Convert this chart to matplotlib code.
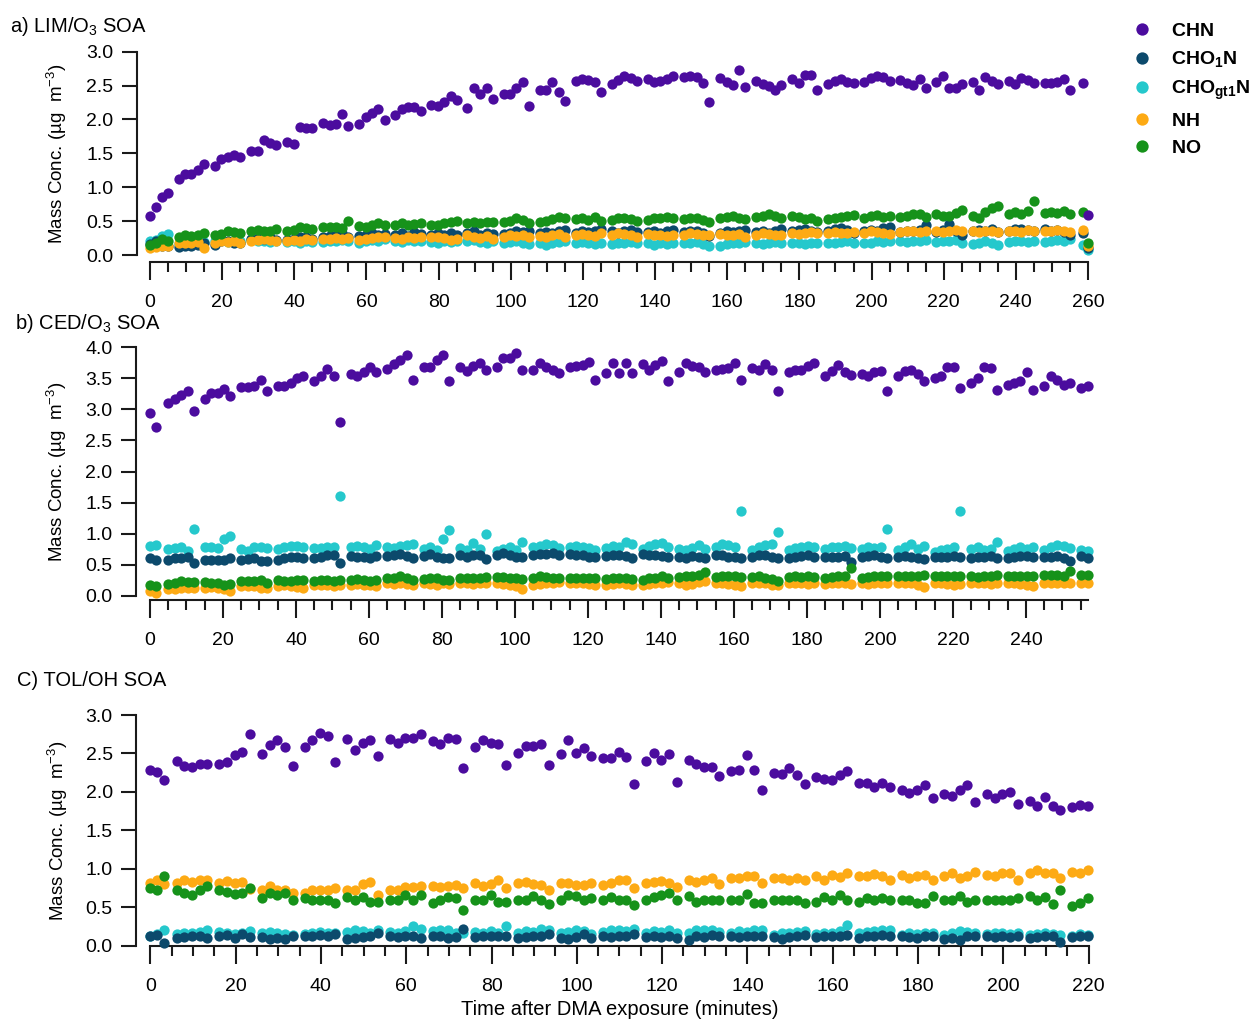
import matplotlib
matplotlib.use("Agg")
import matplotlib.pyplot as plt
import matplotlib.ticker as ticker

plt.rcParams['font.family'] = 'Liberation Sans'
plt.rcParams['mathtext.fontset'] = 'custom'
plt.rcParams['mathtext.rm'] = 'Liberation Sans'
plt.rcParams['mathtext.it'] = 'Liberation Sans:italic'
plt.rcParams['mathtext.bf'] = 'Liberation Sans:bold'

# ---------------- a) LIM/O3 SOA ----------------
time_a = [0, 1.7, 3.4, 5.1,
          8, 9.8, 11.5, 13.3, 15, 18, 19.8, 21.5, 23.3, 25,
          28, 29.8, 31.5, 33.3, 35, 38, 39.8, 41.5, 43.3, 45,
          48, 49.8, 51.5, 53.3, 55, 58, 59.8, 61.5, 63.3, 65,
          68, 69.8, 71.5, 73.3, 75, 78, 79.8, 81.5, 83.3, 85,
          88, 89.8, 91.5, 93.3, 95, 98, 99.8, 101.5, 103.3, 105,
          108, 109.8, 111.5, 113.3, 115, 118, 119.8, 121.5, 123.3, 125,
          128, 129.8, 131.5, 133.3, 135, 138, 139.8, 141.5, 143.3, 145,
          148, 149.8, 151.5, 153.3, 155, 158, 159.8, 161.5, 163.3, 165,
          168, 169.8, 171.5, 173.3, 175, 178, 179.8, 181.5, 183.3, 185,
          188, 189.8, 191.5, 193.3, 195, 198, 199.8, 201.5, 203.3, 205,
          208, 209.8, 211.5, 213.3, 215, 218, 219.8, 221.5, 223.3, 225,
          228, 229.8, 231.5, 233.3, 235, 238, 239.8, 241.5, 243.3, 245,
          248, 249.8, 251.5, 253.3, 255,
          258.5, 260]
chn_a = [0.58, 0.71, 0.85, 0.92,
         1.12, 1.20, 1.20, 1.25, 1.34, 1.31, 1.41, 1.44, 1.48, 1.45,
         1.54, 1.54, 1.70, 1.65, 1.62, 1.67, 1.64, 1.89, 1.87, 1.88,
         1.95, 1.92, 1.94, 2.08, 1.90, 1.93, 2.04, 2.09, 2.15, 1.99,
         2.07, 2.16, 2.19, 2.18, 2.12, 2.21, 2.20, 2.26, 2.34, 2.29,
         2.17, 2.47, 2.38, 2.47, 2.30, 2.38, 2.38, 2.46, 2.56, 2.20,
         2.44, 2.44, 2.56, 2.41, 2.27, 2.57, 2.60, 2.58, 2.56, 2.40,
         2.52, 2.58, 2.64, 2.61, 2.57, 2.60, 2.56, 2.57, 2.60, 2.64,
         2.63, 2.64, 2.63, 2.54, 2.26, 2.61, 2.56, 2.51, 2.73, 2.48,
         2.57, 2.53, 2.49, 2.43, 2.51, 2.59, 2.54, 2.66, 2.66, 2.43,
         2.53, 2.57, 2.59, 2.56, 2.54, 2.56, 2.61, 2.64, 2.62, 2.57,
         2.58, 2.54, 2.51, 2.59, 2.47, 2.56, 2.64, 2.47, 2.46, 2.52,
         2.56, 2.44, 2.63, 2.57, 2.52, 2.57, 2.52, 2.61, 2.58, 2.54,
         2.54, 2.54, 2.56, 2.59, 2.44,
         2.54, 0.59]
cho1n_a = [0.16, 0.20, 0.14, 0.13,
           0.12, 0.14, 0.13, 0.15, 0.17, 0.15, 0.20, 0.21, 0.18, 0.17,
           0.23, 0.25, 0.24, 0.26, 0.22, 0.22, 0.24, 0.27, 0.26, 0.24,
           0.26, 0.28, 0.30, 0.33, 0.27, 0.28, 0.30, 0.32, 0.29, 0.31,
           0.30, 0.33, 0.28, 0.34, 0.31, 0.29, 0.32, 0.30, 0.33, 0.30,
           0.32, 0.35, 0.30, 0.33, 0.31, 0.31, 0.33, 0.35, 0.34, 0.36,
           0.32, 0.34, 0.33, 0.35, 0.37, 0.33, 0.35, 0.34, 0.36, 0.38,
           0.35, 0.33, 0.36, 0.37, 0.34, 0.34, 0.36, 0.33, 0.35, 0.37,
           0.34, 0.35, 0.36, 0.33, 0.28, 0.33, 0.36, 0.34, 0.35, 0.37,
           0.34, 0.35, 0.33, 0.36, 0.38, 0.35, 0.37, 0.39, 0.36, 0.34,
           0.36, 0.38, 0.40, 0.37, 0.33, 0.35, 0.37, 0.36, 0.40, 0.42,
           0.34, 0.36, 0.35, 0.37, 0.44, 0.34, 0.37, 0.46, 0.36, 0.29,
           0.35, 0.37, 0.36, 0.38, 0.34, 0.36, 0.38, 0.39, 0.37, 0.35,
           0.38, 0.36, 0.37, 0.34, 0.30,
           0.33, 0.10]
chogt1n_a = [0.20, 0.22, 0.28, 0.31,
             0.16, 0.18, 0.20, 0.17, 0.19, 0.20, 0.22, 0.19, 0.21, 0.20,
             0.22, 0.20, 0.21, 0.19, 0.20, 0.19, 0.21, 0.18, 0.20, 0.19,
             0.19, 0.21, 0.20, 0.22, 0.21, 0.18, 0.20, 0.22, 0.21, 0.23,
             0.21, 0.19, 0.22, 0.20, 0.21, 0.19, 0.18, 0.20, 0.19, 0.21,
             0.20, 0.22, 0.19, 0.18, 0.20, 0.17, 0.19, 0.20, 0.18, 0.16,
             0.18, 0.15, 0.17, 0.19, 0.20, 0.17, 0.19, 0.18, 0.16, 0.18,
             0.16, 0.18, 0.17, 0.19, 0.18, 0.17, 0.15, 0.18, 0.16, 0.17,
             0.18, 0.17, 0.19, 0.16, 0.13, 0.14, 0.16, 0.18, 0.17, 0.19,
             0.17, 0.16, 0.18, 0.19, 0.17, 0.18, 0.17, 0.16, 0.18, 0.17,
             0.17, 0.18, 0.19, 0.20, 0.18, 0.17, 0.18, 0.20, 0.19, 0.21,
             0.20, 0.19, 0.21, 0.20, 0.22, 0.19, 0.21, 0.20, 0.22, 0.18,
             0.16, 0.18, 0.20, 0.17, 0.15, 0.19, 0.20, 0.21, 0.19, 0.20,
             0.19, 0.20, 0.22, 0.21, 0.23,
             0.15, 0.07]
nh_a = [0.10, 0.12, 0.13, 0.14,
        0.17, 0.18, 0.17, 0.19, 0.10, 0.18, 0.20, 0.19, 0.21, 0.18,
        0.21, 0.22, 0.23, 0.22, 0.21, 0.20, 0.22, 0.21, 0.23, 0.22,
        0.24, 0.23, 0.25, 0.24, 0.25, 0.22, 0.24, 0.25, 0.26, 0.27,
        0.25, 0.24, 0.26, 0.25, 0.26, 0.27, 0.26, 0.25, 0.22, 0.24,
        0.29, 0.27, 0.25, 0.28, 0.24, 0.27, 0.29, 0.28, 0.30, 0.26,
        0.28, 0.27, 0.29, 0.31, 0.26, 0.29, 0.31, 0.30, 0.28, 0.32,
        0.30, 0.32, 0.31, 0.29, 0.27, 0.31, 0.29, 0.30, 0.28, 0.29,
        0.30, 0.32, 0.31, 0.29, 0.30, 0.31, 0.30, 0.29, 0.31, 0.27,
        0.30, 0.32, 0.31, 0.30, 0.29, 0.33, 0.31, 0.32, 0.34, 0.33,
        0.32, 0.34, 0.33, 0.32, 0.34, 0.33, 0.35, 0.34, 0.32, 0.31,
        0.34, 0.35, 0.36, 0.34, 0.35, 0.35, 0.34, 0.36, 0.37, 0.35,
        0.36, 0.34, 0.35, 0.36, 0.34, 0.35, 0.36, 0.34, 0.37, 0.35,
        0.36, 0.35, 0.37, 0.36, 0.34,
        0.37, 0.13]
no_a = [0.15, 0.17, 0.24, 0.21,
        0.27, 0.29, 0.28, 0.30, 0.33, 0.30, 0.31, 0.36, 0.34, 0.32,
        0.36, 0.37, 0.36, 0.35, 0.38, 0.36, 0.37, 0.41, 0.40, 0.38,
        0.42, 0.41, 0.42, 0.40, 0.50, 0.43, 0.42, 0.45, 0.47, 0.44,
        0.45, 0.47, 0.44, 0.46, 0.47, 0.44, 0.45, 0.47, 0.49, 0.50,
        0.47, 0.48, 0.47, 0.49, 0.48, 0.48, 0.50, 0.54, 0.51, 0.47,
        0.48, 0.50, 0.53, 0.56, 0.55, 0.53, 0.54, 0.51, 0.56, 0.50,
        0.52, 0.54, 0.55, 0.53, 0.50, 0.52, 0.55, 0.54, 0.56, 0.55,
        0.53, 0.55, 0.54, 0.52, 0.48, 0.55, 0.56, 0.57, 0.55, 0.53,
        0.56, 0.58, 0.60, 0.57, 0.55, 0.57, 0.56, 0.53, 0.54, 0.50,
        0.53, 0.54, 0.56, 0.57, 0.59, 0.55, 0.57, 0.59, 0.56, 0.58,
        0.56, 0.57, 0.60, 0.61, 0.56, 0.61, 0.58, 0.57, 0.62, 0.66,
        0.57, 0.55, 0.63, 0.69, 0.72, 0.60, 0.63, 0.61, 0.65, 0.79,
        0.62, 0.64, 0.62, 0.65, 0.61,
        0.64, 0.18]

# ---------------- b) CED/O3 SOA ----------------
time_b = [0, 1.7,
          5, 6.8, 8.5, 10.3, 12, 15, 16.8, 18.5, 20.3, 22,
          25, 26.8, 28.5, 30.3, 32, 35, 36.8, 38.5, 40.3, 42,
          45, 46.8, 48.5, 50.3, 52, 55, 56.8, 58.5, 60.3, 62,
          65, 66.8, 68.5, 70.3, 72, 75, 76.8, 78.5, 80.3, 82,
          85, 86.8, 88.5, 90.3, 92, 95, 96.8, 98.5, 100.3, 102,
          105, 106.8, 108.5, 110.3, 112, 115, 116.8, 118.5, 120.3, 122,
          125, 126.8, 128.5, 130.3, 132, 135, 136.8, 138.5, 140.3, 142,
          145, 146.8, 148.5, 150.3, 152, 155, 156.8, 158.5, 160.3, 162,
          165, 166.8, 168.5, 170.3, 172, 175, 176.8, 178.5, 180.3, 182,
          185, 186.8, 188.5, 190.3, 192, 195, 196.8, 198.5, 200.3, 202,
          205, 206.8, 208.5, 210.3, 212, 215, 216.8, 218.5, 220.3, 222,
          225, 226.8, 228.5, 230.3, 232, 235, 236.8, 238.5, 240.3, 242,
          245, 246.8, 248.5, 250.3, 252,
          255.2, 257]
chn_b = [2.94, 2.71,
         3.10, 3.16, 3.23, 3.30, 2.98, 3.16, 3.26, 3.26, 3.33, 3.22,
         3.36, 3.36, 3.38, 3.47, 3.29, 3.38, 3.38, 3.42, 3.50, 3.54,
         3.46, 3.53, 3.65, 3.54, 2.80, 3.57, 3.54, 3.60, 3.69, 3.60,
         3.65, 3.73, 3.79, 3.87, 3.47, 3.68, 3.69, 3.79, 3.88, 3.46,
         3.68, 3.62, 3.70, 3.74, 3.63, 3.69, 3.82, 3.82, 3.91, 3.63,
         3.63, 3.74, 3.68, 3.63, 3.58, 3.69, 3.70, 3.72, 3.77, 3.48,
         3.58, 3.75, 3.58, 3.75, 3.59, 3.73, 3.63, 3.72, 3.78, 3.45,
         3.61, 3.75, 3.70, 3.68, 3.60, 3.63, 3.65, 3.66, 3.74, 3.48,
         3.66, 3.63, 3.73, 3.63, 3.30, 3.60, 3.63, 3.63, 3.70, 3.74,
         3.53, 3.62, 3.72, 3.61, 3.55, 3.57, 3.53, 3.60, 3.62, 3.30,
         3.53, 3.62, 3.63, 3.57, 3.46, 3.50, 3.54, 3.68, 3.68, 3.34,
         3.42, 3.50, 3.69, 3.66, 3.32, 3.39, 3.43, 3.46, 3.61, 3.32,
         3.38, 3.53, 3.47, 3.39, 3.43,
         3.34, 3.37]
cho1n_b = [0.61, 0.57,
           0.57, 0.60, 0.61, 0.63, 0.52, 0.58, 0.58, 0.57, 0.57, 0.60,
           0.58, 0.59, 0.60, 0.56, 0.56, 0.57, 0.60, 0.62, 0.62, 0.61,
           0.60, 0.63, 0.65, 0.65, 0.52, 0.64, 0.63, 0.62, 0.61, 0.64,
           0.64, 0.66, 0.67, 0.64, 0.61, 0.64, 0.67, 0.62, 0.61, 0.60,
           0.65, 0.63, 0.65, 0.66, 0.59, 0.65, 0.68, 0.65, 0.62, 0.63,
           0.66, 0.67, 0.67, 0.68, 0.66, 0.67, 0.65, 0.66, 0.63, 0.62,
           0.64, 0.65, 0.66, 0.64, 0.60, 0.67, 0.66, 0.66, 0.64, 0.63,
           0.62, 0.60, 0.64, 0.63, 0.60, 0.65, 0.66, 0.62, 0.62, 0.60,
           0.62, 0.65, 0.66, 0.63, 0.60, 0.60, 0.63, 0.64, 0.65, 0.62,
           0.63, 0.62, 0.63, 0.64, 0.55, 0.63, 0.64, 0.66, 0.63, 0.61,
           0.63, 0.64, 0.63, 0.61, 0.59, 0.62, 0.63, 0.62, 0.64, 0.63,
           0.60, 0.62, 0.63, 0.64, 0.61, 0.61, 0.63, 0.64, 0.64, 0.63,
           0.62, 0.63, 0.64, 0.61, 0.56,
           0.64, 0.61]
chogt1n_b = [0.80, 0.82,
             0.76, 0.77, 0.79, 0.72, 1.07, 0.79, 0.79, 0.77, 0.91, 0.96,
             0.76, 0.72, 0.78, 0.78, 0.77, 0.76, 0.78, 0.80, 0.80, 0.79,
             0.77, 0.77, 0.79, 0.78, 1.60, 0.79, 0.80, 0.78, 0.76, 0.82,
             0.78, 0.77, 0.80, 0.82, 0.84, 0.76, 0.79, 0.73, 0.92, 1.05,
             0.77, 0.74, 0.85, 0.75, 1.00, 0.72, 0.76, 0.78, 0.74, 0.86,
             0.79, 0.80, 0.83, 0.81, 0.77, 0.78, 0.80, 0.79, 0.77, 0.73,
             0.77, 0.80, 0.78, 0.86, 0.83, 0.76, 0.80, 0.83, 0.85, 0.79,
             0.75, 0.73, 0.77, 0.81, 0.76, 0.79, 0.84, 0.81, 0.78, 1.36,
             0.74, 0.79, 0.82, 0.83, 1.02, 0.74, 0.77, 0.79, 0.80, 0.78,
             0.76, 0.78, 0.79, 0.80, 0.77, 0.75, 0.78, 0.77, 0.79, 1.07,
             0.73, 0.78, 0.83, 0.76, 0.80, 0.71, 0.74, 0.76, 0.78, 1.36,
             0.75, 0.78, 0.73, 0.76, 0.87, 0.72, 0.76, 0.78, 0.75, 0.79,
             0.74, 0.78, 0.82, 0.80, 0.77,
             0.74, 0.72]
nh_b = [0.08, 0.05,
        0.10, 0.11, 0.12, 0.13, 0.12, 0.13, 0.14, 0.12, 0.11, 0.08,
        0.15, 0.16, 0.16, 0.13, 0.12, 0.16, 0.17, 0.15, 0.14, 0.12,
        0.17, 0.18, 0.17, 0.16, 0.17, 0.18, 0.19, 0.18, 0.17, 0.16,
        0.20, 0.19, 0.21, 0.19, 0.17, 0.20, 0.19, 0.18, 0.20, 0.19,
        0.20, 0.21, 0.19, 0.20, 0.21, 0.20, 0.19, 0.18, 0.16, 0.10,
        0.17, 0.19, 0.20, 0.21, 0.22, 0.20, 0.20, 0.21, 0.19, 0.18,
        0.18, 0.19, 0.20, 0.19, 0.17, 0.18, 0.19, 0.20, 0.21, 0.22,
        0.20, 0.18, 0.19, 0.22, 0.24, 0.21, 0.20, 0.19, 0.18, 0.16,
        0.20, 0.21, 0.20, 0.18, 0.17, 0.20, 0.21, 0.20, 0.19, 0.20,
        0.19, 0.20, 0.21, 0.20, 0.19, 0.20, 0.19, 0.20, 0.21, 0.20,
        0.20, 0.21, 0.20, 0.18, 0.14, 0.21, 0.20, 0.19, 0.18, 0.19,
        0.20, 0.21, 0.20, 0.19, 0.20, 0.21, 0.20, 0.19, 0.18, 0.16,
        0.21, 0.20, 0.21, 0.20, 0.21,
        0.20, 0.20]
no_b = [0.17, 0.15,
        0.19, 0.20, 0.23, 0.22, 0.22, 0.22, 0.21, 0.20, 0.18, 0.19,
        0.23, 0.23, 0.24, 0.26, 0.21, 0.25, 0.24, 0.23, 0.25, 0.26,
        0.24, 0.25, 0.25, 0.24, 0.25, 0.26, 0.27, 0.25, 0.24, 0.26,
        0.28, 0.29, 0.31, 0.28, 0.26, 0.27, 0.29, 0.28, 0.26, 0.25,
        0.28, 0.28, 0.29, 0.28, 0.30, 0.30, 0.30, 0.29, 0.28, 0.27,
        0.28, 0.31, 0.30, 0.29, 0.28, 0.29, 0.28, 0.29, 0.29, 0.28,
        0.27, 0.28, 0.28, 0.29, 0.27, 0.26, 0.28, 0.29, 0.31, 0.29,
        0.30, 0.31, 0.32, 0.34, 0.38, 0.30, 0.31, 0.32, 0.31, 0.30,
        0.30, 0.31, 0.29, 0.27, 0.24, 0.30, 0.31, 0.30, 0.31, 0.30,
        0.29, 0.30, 0.31, 0.32, 0.44, 0.29, 0.30, 0.31, 0.32, 0.31,
        0.31, 0.31, 0.32, 0.31, 0.33, 0.32, 0.32, 0.31, 0.32, 0.32,
        0.31, 0.30, 0.31, 0.32, 0.33, 0.31, 0.32, 0.32, 0.31, 0.32,
        0.33, 0.34, 0.33, 0.32, 0.40,
        0.33, 0.33]

# ---------------- c) TOL/OH SOA ----------------
time_c = [0, 1.6, 3.3,
          6.2, 8, 9.8, 11.6, 13.4, 16.2, 18, 19.8, 21.6, 23.4,
          26.2, 28, 29.8, 31.6, 33.4, 36.2, 38, 39.8, 41.6, 43.4,
          46.2, 48, 49.8, 51.6, 53.4, 56.2, 58, 59.8, 61.6, 63.4,
          66.2, 68, 69.8, 71.6, 73.4, 76.2, 78, 79.8, 81.6, 83.4,
          86.2, 88, 89.8, 91.6, 93.4, 96.2, 98, 99.8, 101.6, 103.4,
          106.2, 108, 109.8, 111.6, 113.4, 116.2, 118, 119.8, 121.6, 123.4,
          126.2, 128, 129.8, 131.6, 133.4, 136.2, 138, 139.8, 141.6, 143.4,
          146.2, 148, 149.8, 151.6, 153.4, 156.2, 158, 159.8, 161.6, 163.4,
          166.2, 168, 169.8, 171.6, 173.4, 176.2, 178, 179.8, 181.6, 183.4,
          186.2, 188, 189.8, 191.6, 193.4, 196.2, 198, 199.8, 201.6, 203.4,
          206.2, 208, 209.8, 211.6, 213.4,
          216.2, 218, 219.8]
chn_c = [2.28, 2.26, 2.15,
         2.40, 2.34, 2.32, 2.36, 2.36, 2.36, 2.39, 2.48, 2.52, 2.75,
         2.49, 2.61, 2.67, 2.59, 2.34, 2.58, 2.67, 2.76, 2.73, 2.39,
         2.69, 2.55, 2.63, 2.67, 2.47, 2.69, 2.63, 2.70, 2.70, 2.75,
         2.66, 2.62, 2.70, 2.69, 2.31, 2.59, 2.67, 2.63, 2.62, 2.35,
         2.51, 2.60, 2.60, 2.62, 2.35, 2.49, 2.67, 2.50, 2.57, 2.47,
         2.44, 2.44, 2.52, 2.46, 2.10, 2.40, 2.50, 2.42, 2.49, 2.13,
         2.41, 2.36, 2.33, 2.32, 2.21, 2.27, 2.29, 2.48, 2.29, 2.03,
         2.25, 2.23, 2.31, 2.22, 2.10, 2.20, 2.17, 2.16, 2.22, 2.27,
         2.12, 2.12, 2.07, 2.12, 2.06, 2.02, 1.98, 2.02, 2.09, 1.92,
         1.97, 1.95, 2.02, 2.09, 1.87, 1.97, 1.92, 1.97, 2.00, 1.84,
         1.88, 1.82, 1.94, 1.82, 1.76,
         1.81, 1.83, 1.82]
cho1n_c = [0.13, 0.14, 0.04,
           0.10, 0.11, 0.12, 0.13, 0.10, 0.12, 0.14, 0.10, 0.15, 0.11,
           0.11, 0.09, 0.10, 0.09, 0.12, 0.12, 0.13, 0.14, 0.13, 0.15,
           0.09, 0.10, 0.11, 0.13, 0.16, 0.12, 0.11, 0.12, 0.13, 0.10,
           0.13, 0.12, 0.10, 0.11, 0.22, 0.11, 0.12, 0.13, 0.12, 0.13,
           0.10, 0.11, 0.13, 0.12, 0.15, 0.10, 0.09, 0.11, 0.15, 0.10,
           0.12, 0.11, 0.12, 0.13, 0.15, 0.11, 0.12, 0.11, 0.12, 0.10,
           0.07, 0.13, 0.11, 0.14, 0.12, 0.12, 0.11, 0.12, 0.13, 0.12,
           0.11, 0.09, 0.11, 0.12, 0.14, 0.11, 0.12, 0.13, 0.12, 0.14,
           0.10, 0.12, 0.13, 0.14, 0.13, 0.12, 0.11, 0.10, 0.12, 0.13,
           0.09, 0.10, 0.07, 0.12, 0.13, 0.12, 0.11, 0.12, 0.11, 0.12,
           0.10, 0.11, 0.12, 0.13, 0.05,
           0.11, 0.12, 0.12]
chogt1n_c = [0.12, 0.15, 0.21,
             0.15, 0.17, 0.16, 0.18, 0.21, 0.18, 0.17, 0.15, 0.17, 0.19,
             0.17, 0.18, 0.16, 0.15, 0.14, 0.15, 0.17, 0.18, 0.16, 0.17,
             0.18, 0.20, 0.19, 0.17, 0.20, 0.18, 0.17, 0.19, 0.25, 0.22,
             0.19, 0.20, 0.21, 0.17, 0.16, 0.18, 0.17, 0.19, 0.16, 0.25,
             0.17, 0.19, 0.18, 0.22, 0.20, 0.17, 0.18, 0.20, 0.19, 0.15,
             0.18, 0.20, 0.21, 0.19, 0.22, 0.17, 0.19, 0.18, 0.20, 0.17,
             0.16, 0.20, 0.21, 0.20, 0.18, 0.17, 0.19, 0.18, 0.20, 0.21,
             0.14, 0.16, 0.17, 0.18, 0.19, 0.15, 0.16, 0.17, 0.19, 0.27,
             0.17, 0.18, 0.19, 0.21, 0.20, 0.14, 0.16, 0.15, 0.17, 0.16,
             0.14, 0.17, 0.19, 0.18, 0.17, 0.15, 0.16, 0.17, 0.15, 0.16,
             0.14, 0.15, 0.16, 0.15, 0.14,
             0.13, 0.15, 0.14]
nh_c = [0.82, 0.85, 0.80,
        0.82, 0.85, 0.83, 0.85, 0.85, 0.82, 0.84, 0.81, 0.83, 0.74,
        0.72, 0.77, 0.73, 0.72, 0.69, 0.69, 0.73, 0.73, 0.73, 0.75,
        0.73, 0.72, 0.80, 0.83, 0.66, 0.73, 0.72, 0.76, 0.76, 0.78,
        0.78, 0.76, 0.77, 0.79, 0.75, 0.82, 0.77, 0.80, 0.85, 0.75,
        0.82, 0.83, 0.80, 0.79, 0.72, 0.82, 0.82, 0.79, 0.79, 0.81,
        0.79, 0.82, 0.85, 0.85, 0.75, 0.82, 0.83, 0.84, 0.82, 0.76,
        0.86, 0.83, 0.85, 0.88, 0.80, 0.88, 0.88, 0.91, 0.90, 0.82,
        0.88, 0.88, 0.85, 0.88, 0.85, 0.90, 0.86, 0.92, 0.89, 0.94,
        0.91, 0.90, 0.93, 0.91, 0.85, 0.92, 0.88, 0.91, 0.92, 0.85,
        0.90, 0.94, 0.88, 0.90, 0.96, 0.92, 0.91, 0.95, 0.94, 0.86,
        0.94, 0.98, 0.95, 0.94, 0.88,
        0.96, 0.94, 0.98]
no_c = [0.75, 0.72, 0.90,
        0.72, 0.69, 0.66, 0.72, 0.77, 0.72, 0.70, 0.67, 0.68, 0.75,
        0.62, 0.68, 0.66, 0.68, 0.59, 0.62, 0.59, 0.60, 0.59, 0.56,
        0.63, 0.59, 0.63, 0.57, 0.57, 0.60, 0.60, 0.66, 0.60, 0.66,
        0.55, 0.60, 0.63, 0.62, 0.46, 0.60, 0.60, 0.66, 0.57, 0.57,
        0.59, 0.60, 0.64, 0.59, 0.54, 0.59, 0.66, 0.64, 0.60, 0.62,
        0.59, 0.63, 0.60, 0.60, 0.53, 0.59, 0.63, 0.66, 0.69, 0.60,
        0.65, 0.57, 0.59, 0.59, 0.59, 0.60, 0.59, 0.67, 0.55, 0.55,
        0.59, 0.59, 0.59, 0.59, 0.55, 0.57, 0.63, 0.59, 0.66, 0.59,
        0.57, 0.62, 0.59, 0.62, 0.59, 0.59, 0.59, 0.56, 0.56, 0.64,
        0.60, 0.59, 0.64, 0.57, 0.60, 0.60, 0.59, 0.59, 0.60, 0.62,
        0.64, 0.59, 0.63, 0.54, 0.72,
        0.52, 0.56, 0.62]

names = ['CHN', 'CHO1N', 'CHOgt1N', 'NH', 'NO']
labels = [r'$\mathbf{CHN}$', r'$\mathbf{CHO_1N}$', r'$\mathbf{CHO_{gt1}N}$',
          r'$\mathbf{NH}$', r'$\mathbf{NO}$']
colors = {'CHN': '#4b0c9e', 'CHO1N': '#0c4a6c', 'CHOgt1N': '#25c8cc',
          'NH': '#fdaa14', 'NO': '#16921a'}
draw_order = ['CHOgt1N', 'CHO1N', 'NH', 'NO', 'CHN']

fig = plt.figure(figsize=(12.55, 10.22), dpi=100)
W, H = 1255.0, 1022.0


def make_axes(x0, x1, ytop, ybot):
    return fig.add_axes([x0 / W, 1 - ybot / H, (x1 - x0) / W, (ybot - ytop) / H])


def style(ax, xmax, ymax, left_off, bottom_off):
    ax.set_xlim(0, xmax)
    ax.set_ylim(0, ymax)
    for s in ['top', 'right']:
        ax.spines[s].set_visible(False)
    ax.spines['left'].set_position(('outward', left_off))
    ax.spines['left'].set_bounds(0, ymax)
    ax.spines['bottom'].set_position(('outward', bottom_off))
    ax.spines['bottom'].set_bounds(0, xmax)
    for s in ['left', 'bottom']:
        ax.spines[s].set_linewidth(1.5)
        ax.spines[s].set_color('#1a1a1a')
    ax.xaxis.set_major_locator(ticker.MultipleLocator(20))
    ax.xaxis.set_minor_locator(ticker.MultipleLocator(5))
    ax.yaxis.set_major_locator(ticker.MultipleLocator(0.5))
    ax.yaxis.set_major_formatter(ticker.FormatStrFormatter('%.1f'))
    ax.tick_params(axis='x', which='major', length=13, width=1.5, pad=10,
                   labelsize=14, color='#1a1a1a')
    ax.tick_params(axis='x', which='minor', length=7, width=1.5, color='#1a1a1a')
    ax.tick_params(axis='y', which='major', length=11, width=1.5, pad=6,
                   labelsize=14, color='#1a1a1a')
    ax.set_ylabel(u'Mass Conc. (\u00b5g  m$^{-3}$)', fontsize=13.5)
    ax.yaxis.set_label_coords(-0.086, 0.5)


panels = [
    (make_axes(150, 1088, 51.7, 255), time_a,
     [chn_a, cho1n_a, chogt1n_a, nh_a, no_a], 260, 3.0, 9.5, 5),
    (make_axes(150, 1088, 347.3, 595.7), time_b,
     [chn_b, cho1n_b, chogt1n_b, nh_b, no_b], 257, 4.0, 10, 3.2),
    (make_axes(150.3, 1088.6, 715, 945.7), time_c,
     [chn_c, cho1n_c, chogt1n_c, nh_c, no_c], 220, 3.0, 10, 0),
]

handles = {}
for ax, t, series, xmax, ymax, loff, boff in panels:
    data = dict(zip(names, series))
    for n in draw_order:
        h, = ax.plot(t, data[n], 'o', ms=7.4, color=colors[n], mec='none',
                     clip_on=False, zorder=3)
        handles[n] = h
    style(ax, xmax, ymax, loff, boff)

panels[2][0].set_xlabel('Time after DMA exposure (minutes)', fontsize=14.5,
                        labelpad=4)

fig.text(10 / W, 1 - 32 / H, 'a) LIM/O$_3$ SOA', fontsize=14.5, va='baseline')
fig.text(15 / W, 1 - 329 / H, 'b) CED/O$_3$ SOA', fontsize=14.5, va='baseline')
fig.text(17 / W, 1 - 686 / H, 'C) TOL/OH SOA', fontsize=14.5, va='baseline')

fig.legend([handles[n] for n in names], labels, loc='upper left',
           bbox_to_anchor=(1132 / W, 1 - 22 / H), frameon=False,
           fontsize=14, handlelength=1.0, handletextpad=1.0,
           labelspacing=0.5, borderpad=0, borderaxespad=0,
           markerscale=1.2, numpoints=1)

fig.savefig('out.png', dpi=100)
